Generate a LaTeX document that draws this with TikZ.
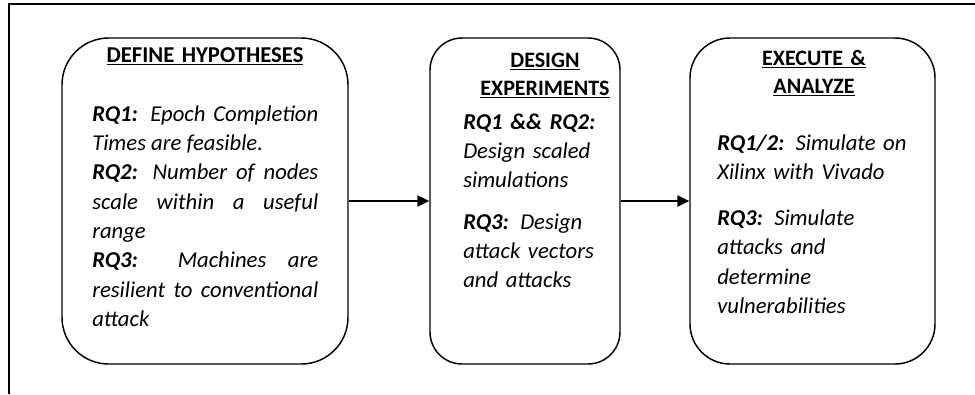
\documentclass[tikz,border=0pt]{standalone}
\usepackage{fontspec}
\setmainfont{Carlito}
\usetikzlibrary{arrows.meta}
\begin{document}
\begin{tikzpicture}[x=0.75pt,y=-0.75pt,
  stage/.style={draw, line width=1.1pt, rounded corners=#1, inner sep=0pt, minimum height=244.5pt},
  title/.style={inner sep=0pt, anchor=base, align=center, text width=170pt, font=\fontsize{#1}{21.5}\selectfont\bfseries},
  title/.default=17,
  body/.style={inner sep=0pt, anchor=base west, text width=#1, font=\fontsize{17}{22}\selectfont\itshape},
  flow/.style={line width=1.1pt, -{Triangle[length=9pt,width=8.5pt]}}]
\useasboundingbox (0,0) rectangle (975,394);
\draw[line width=0.9pt] (9,394) -- (9,4) -- (975,4);
\node[stage=35pt, minimum width=214.5pt] (hyp) at (205,201) {};
\node[stage=24pt, minimum width=142.5pt] (exp) at (525,201) {};
\node[stage=30pt, minimum width=183.75pt] (exe) at (812.5,201) {};
\node[title] (hypTitle) at (205,62) {\underline{DEFINE HYPOTHESES}};
\node[title=16.5] (expTitle) at (545,67) {\underline{DESIGN}\\\underline{EXPERIMENTS}};
\node[title=16.5] (exeTitle) at (814,65) {\underline{EXECUTE \&}\\\underline{ANALYZE}};
\node[body=169.5pt, align=justify] (hypText) at (92,121) {{\bfseries RQ1:} Epoch Completion\linebreak Times are feasible.\par {\bfseries RQ2:} Number of nodes\linebreak scale within a useful\linebreak range\par {\bfseries RQ3:} Machines are\linebreak resilient to conventional\linebreak attack};
\node[body=170pt, align=left] (expText) at (463,129) {{\bfseries RQ1 \&\& RQ2:}\\ Design scaled\\ simulations\\[9pt] {\bfseries RQ3:} Design\\ attack vectors\\ and attacks};
\node[body=190pt, align=left] (exeText) at (717,150) {{\bfseries RQ1/2:} Simulate on\\ Xilinx with Vivado\\[12.5pt] {\bfseries RQ3:} Simulate\\ attacks and\\ determine\\ vulnerabilities};
\draw[flow] (hyp) -- (exp);
\draw[flow] (exp) -- (exe);
\end{tikzpicture}
\end{document}
